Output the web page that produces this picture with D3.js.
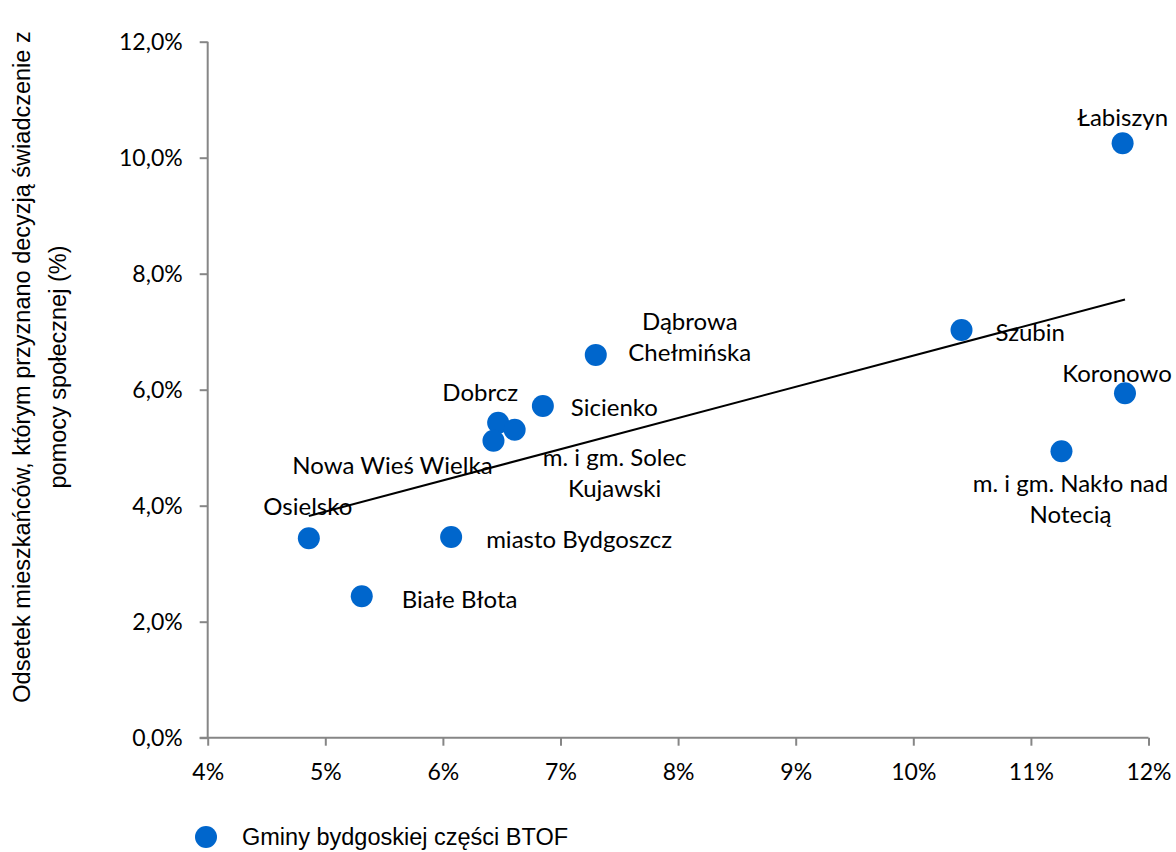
<!DOCTYPE html>
<html>
<head>
	<meta charset="utf-8">
	<title> scatter </title>
	<script src="https://d3js.org/d3.v7.min.js"></script>
	<style>
		body { margin: 0; background: #fff; }
	</style>
</head>
<body>
	<svg width="1176" height="852"></svg>
	<script type="text/javascript">
		// gminy, x = stopa bezrobocia (%), y = odsetek z decyzja o swiadczeniu (%)
		let names = ["Łabiszyn", "Szubin", "Koronowo", "m. i gm. Nakło nad\nNotecią", "Dąbrowa\nChełmińska",
			"Sicienko", "Dobrcz", "m. i gm. Solec\nKujawski", "Nowa Wieś Wielka", "Osielsko",
			"miasto Bydgoszcz", "Białe Błota"];
		let xValues = [11.78, 10.41, 11.80, 11.26, 7.30, 6.85, 6.47, 6.61, 6.43, 4.86, 6.07, 5.31];
		let yValues = [10.25, 7.03, 5.94, 4.94, 6.60, 5.72, 5.43, 5.31, 5.12, 3.44, 3.46, 2.44];
		let xTicks = [4, 5, 6, 7, 8, 9, 10, 11, 12];
		let yTicks = [0, 2, 4, 6, 8, 10, 12];
		let seriesName = "Gminy bydgoskiej części BTOF";
		let yTitle = ["Odsetek mieszkańców, którym przyznano decyzją świadczenie z", "pomocy społecznej (%)"];

		// label placement (px offset from the point, anchor)
		let labelPos = {
			"Łabiszyn": [0, -27, "middle"],
			"Szubin": [34, 1, "start"],
			"Koronowo": [-8, -21, "middle"],
			"m. i gm. Nakło nad\nNotecią": [9, 31, "middle"],
			"Dąbrowa\nChełmińska": [94, -35, "middle"],
			"Sicienko": [28, 0, "start"],
			"Dobrcz": [-18, -32, "middle"],
			"m. i gm. Solec\nKujawski": [100, 26, "middle"],
			"Nowa Wieś Wielka": [-101, 23, "middle"],
			"Osielsko": [-1, -33, "middle"],
			"miasto Bydgoszcz": [35, 1, "start"],
			"Białe Błota": [40, 2, "start"]
		};

		let svg = d3.select("svg");
		let dotColor = "#0066CC";
		let axisColor = "#868686";
		let labelFont = "Lato, 'Open Sans', sans-serif";
		let arialFont = "'Liberation Sans', Arial, sans-serif";

		let x = d3.scaleLinear().domain([4, 12]).range([207.7, 1148.5]);
		let y = d3.scaleLinear().domain([0, 12]).range([737.7, 41.7]);

		let fmtY = v => d3.format(".1f")(v).replace(".", ",") + "%";

		// y axis
		let gy = svg.append("g").attr("transform", "translate(" + x(4) + ",0)")
			.call(d3.axisLeft(y).tickValues(yTicks).tickSize(8).tickPadding(17).tickFormat(fmtY));
		// x axis
		let gx = svg.append("g").attr("transform", "translate(0," + y(0) + ")")
			.call(d3.axisBottom(x).tickValues(xTicks).tickSize(8).tickPadding(18).tickFormat(d => d + "%"));
		[gx, gy].forEach(g => {
			g.select(".domain").attr("stroke", axisColor).attr("stroke-width", 2);
			g.selectAll(".tick line").attr("stroke", axisColor).attr("stroke-width", 2);
			g.selectAll(".tick text").attr("fill", "#000")
				.style("font-family", labelFont).style("font-size", "23px");
		});
		gy.select(".domain").attr("d", "M0," + y(12) + "V" + y(0));
		gx.select(".domain").attr("d", "M" + (x(4) - 8) + ",0H" + x(12));

		// trendline (least squares)
		let n = xValues.length;
		let mx = d3.mean(xValues), my = d3.mean(yValues);
		let sxy = 0, sxx = 0;
		for (let i = 0; i < n; i++) {
			sxy += (xValues[i] - mx) * (yValues[i] - my);
			sxx += (xValues[i] - mx) * (xValues[i] - mx);
		}
		let slope = sxy / sxx, icpt = my - slope * mx;
		let x0 = d3.min(xValues), x1 = d3.max(xValues);
		svg.append("line")
			.attr("x1", x(x0)).attr("y1", y(icpt + slope * x0))
			.attr("x2", x(x1)).attr("y2", y(icpt + slope * x1))
			.attr("stroke", "#000").attr("stroke-width", 2);

		// points
		let data = names.map((nm, i) => ({ name: nm, x: xValues[i], y: yValues[i] }));
		svg.append("g").selectAll("circle").data(data).enter().append("circle")
			.attr("cx", d => x(d.x)).attr("cy", d => y(d.y)).attr("r", 11)
			.attr("fill", dotColor);

		// labels
		let lbl = svg.append("g").style("font-family", labelFont).style("font-size", "24px");
		data.forEach(d => {
			let p = labelPos[d.name];
			let t = lbl.append("text")
				.attr("x", x(d.x) + p[0]).attr("y", y(d.y) + p[1])
				.attr("text-anchor", p[2]).attr("dominant-baseline", "central");
			d.name.split("\n").forEach((line, j) => {
				t.append("tspan").attr("x", x(d.x) + p[0]).attr("dy", j == 0 ? 0 : 31).text(line);
			});
		});

		// y title
		let yt = svg.append("text")
			.attr("transform", "translate(22,367) rotate(-90)")
			.attr("text-anchor", "middle")
			.style("font-family", arialFont).style("font-size", "23.5px");
		yTitle.forEach((line, j) => {
			yt.append("tspan").attr("x", 0).attr("dy", j == 0 ? "0.35em" : 36).text(line);
		});

		// legend
		svg.append("circle").attr("cx", 206).attr("cy", 837).attr("r", 11).attr("fill", dotColor);
		svg.append("text").attr("x", 242).attr("y", 837).attr("dominant-baseline", "central")
			.style("font-family", arialFont).style("font-size", "23.5px")
			.text(seriesName);
	</script>
</body>
</html>
